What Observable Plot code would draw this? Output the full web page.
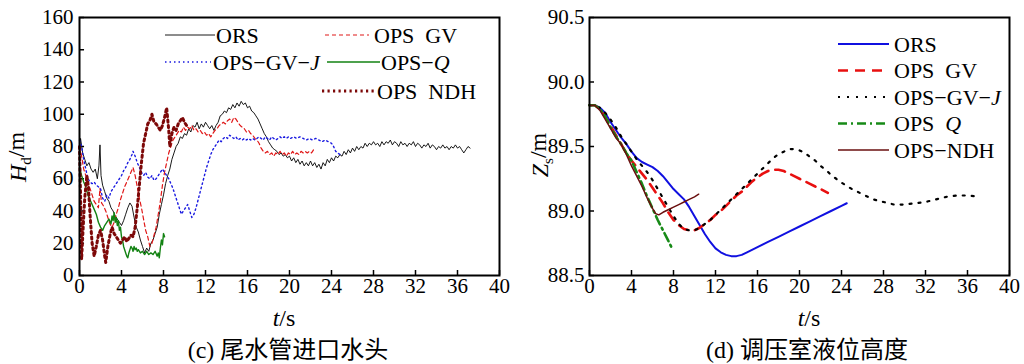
<!DOCTYPE html>
<html><head><meta charset="utf-8">
<script src="https://cdn.jsdelivr.net/npm/d3@7"></script>
<script src="https://cdn.jsdelivr.net/npm/@observablehq/plot@0.6"></script>
<style>
html,body{margin:0;padding:0;background:#fff;}
#wrap{position:relative;width:1024px;height:364px;display:flex;}
svg{display:block}
</style></head><body><div id="wrap"></div>
<script>
// ---------- data ----------
const xTicks = [0,4,8,12,16,20,24,28,32,36,40];
const yTicksC = [0,20,40,60,80,100,120,140,160];
const yTicksD = [88.5,89.0,89.5,90.0,90.5];

const namesC = [[["ORS",0]],[["OPS  GV",0]],[["OPS−GV−",0],["J",1]],[["OPS−",0],["Q",1]],[["OPS  NDH",0]]];
const namesD = [[["ORS",0]],[["OPS  GV",0]],[["OPS−GV−",0],["J",1]],[["OPS  ",0],["Q",1]],[["OPS−NDH",0]]];
const captionC = "(c) 尾水管进口水头";
const captionD = "(d) 调压室液位高度";

// (c) draft tube inlet head H_d (m) vs t (s)
const orsC = [[0,78],[0.1,85],[0.3,76],[0.5,72],[0.7,68],[0.9,70],[1.1,66],[1.3,64],[1.5,66],[1.7,60],[1.85,68],[1.95,81],[2.05,62],[2.2,56],[2.4,52],[2.6,48],[2.8,46],[3.0,42],[3.2,40],[3.4,37],[3.6,35],[3.8,33],[4.0,31],[4.2,34],[4.4,38],[4.6,42],[4.8,45],[5.0,43],[5.2,36],[5.4,30],[5.6,27],[5.8,22],[6.0,18],[6.2,14],[6.4,17],[6.6,15],[6.8,20],[7.0,22],[7.2,26],[7.4,30],[7.6,38],[7.8,44],[8.0,50],[8.2,57],[8.4,62],[8.6,66],[8.8,72],[9.0,76],[9.2,80],[9.4,82],[9.6,86],[9.8,85],[10.0,88],[10.2,87],[10.4,91],[10.6,89],[10.8,93],[11.0,92],[11.2,95],[11.4,91],[11.6,94],[11.8,92],[12.0,95],[12.2,93],[12.4,91],[12.6,93],[12.8,90],[13.0,93],[13.2,95],[13.4,99],[13.6,100],[13.8,102],[14.0,101],[14.2,104],[14.4,103],[14.6,106],[14.8,104],[15.0,107],[15.2,105],[15.4,108],[15.6,106],[15.8,107],[16.0,104],[16.2,105],[16.4,102],[16.6,101],[16.8,99],[17.0,97],[17.2,94],[17.4,91],[17.6,88],[17.8,86],[18.0,83],[18.2,81],[18.4,79],[18.6,78],[18.8,77],[19.0,75],[19.2,76],[19.4,74],[19.6,75],[19.8,73],[20.0,74],[20.2,71],[20.4,73],[20.6,70],[20.8,72],[21.0,69],[21.2,71],[21.4,68],[21.6,70],[21.8,68],[22.0,71],[22.2,68],[22.4,70],[22.6,67],[22.8,69],[23.0,66],[23.2,70],[23.4,68],[23.6,72],[23.8,70],[24.0,73],[24.2,71],[24.4,74],[24.6,73],[24.8,75],[25.0,74],[25.2,77],[25.4,75],[25.6,78],[25.8,76],[26.0,79],[26.2,77],[26.4,80],[26.6,78],[26.8,80],[27.0,79],[27.2,82],[27.4,80],[27.6,82],[27.8,81],[28.0,83],[28.2,81],[28.4,82],[28.6,80],[28.8,83],[29.0,81],[29.2,83],[29.4,82],[29.6,84],[29.8,81],[30.0,83],[30.2,82],[30.4,80],[30.6,83],[30.8,81],[31.0,82],[31.2,80],[31.4,82],[31.6,81],[31.8,83],[32.0,80],[32.2,82],[32.4,81],[32.6,79],[32.8,81],[33.0,80],[33.2,82],[33.4,79],[33.6,81],[33.8,80],[34.0,78],[34.2,80],[34.4,79],[34.6,81],[34.8,79],[35.0,80],[35.2,78],[35.4,80],[35.6,79],[35.8,81],[36.0,79],[36.2,80],[36.4,78],[36.6,76],[36.8,78],[37.0,80],[37.2,79]];
const gvC = [[0,80],[0.2,74],[0.4,66],[0.6,62],[0.8,57],[1.0,54],[1.2,50],[1.4,46],[1.6,44],[1.8,42],[1.95,54],[2.1,45],[2.3,43],[2.5,40],[2.7,36],[2.9,32],[3.1,30],[3.3,33],[3.5,38],[3.7,42],[3.9,47],[4.1,51],[4.3,55],[4.5,58],[4.7,61],[4.9,64],[5.1,67],[5.3,62],[5.5,55],[5.7,48],[5.9,42],[6.1,35],[6.3,28],[6.5,24],[6.7,18],[6.9,20],[7.1,25],[7.3,30],[7.5,38],[7.7,46],[7.9,56],[8.1,64],[8.3,70],[8.5,76],[8.7,80],[8.9,84],[9.1,86],[9.3,88],[9.5,90],[9.7,89],[9.9,92],[10.1,90],[10.3,92],[10.5,91],[10.7,93],[10.9,90],[11.1,91],[11.3,89],[11.5,90],[11.7,88],[11.9,89],[12.1,87],[12.3,88],[12.5,86],[12.7,88],[12.9,90],[13.1,91],[13.3,93],[13.5,94],[13.7,95],[13.9,94],[14.1,96],[14.3,97],[14.5,95],[14.7,98],[14.9,97],[15.1,95],[15.3,93],[15.5,92],[15.7,91],[15.9,89],[16.1,90],[16.3,88],[16.5,87],[16.7,85],[16.9,84],[17.1,82],[17.3,79],[17.5,77],[17.7,76],[17.9,77],[18.1,75],[18.3,76],[18.5,74],[18.7,76],[18.9,75],[19.1,77],[19.3,75],[19.5,76],[19.7,74],[19.9,76],[20.1,75],[20.3,77],[20.5,75],[20.7,76],[20.9,75],[21.1,77],[21.3,76],[21.5,77],[21.7,76],[21.9,77],[22.1,76],[22.3,78],[22.5,78]];
const gvjC = [[0,84],[0.2,80],[0.4,72],[0.6,66],[0.8,60],[1.0,58],[1.2,57],[1.4,58],[1.6,56],[1.8,55],[2.0,54],[2.2,48],[2.4,46],[2.6,50],[2.8,48],[3.0,52],[3.2,54],[3.4,56],[3.6,58],[3.8,60],[4.0,62],[4.2,65],[4.4,67],[4.6,70],[4.8,72],[5.0,75],[5.1,77],[5.3,74],[5.5,70],[5.7,67],[5.9,64],[6.1,62],[6.3,64],[6.5,61],[6.7,60],[6.9,62],[7.1,59],[7.3,60],[7.5,62],[7.7,64],[7.9,66],[8.1,64],[8.3,62],[8.5,60],[8.7,57],[8.9,54],[9.1,50],[9.3,46],[9.5,42],[9.7,38],[9.9,40],[10.1,42],[10.3,44],[10.5,40],[10.7,36],[10.9,38],[11.1,42],[11.3,47],[11.5,52],[11.7,57],[11.9,62],[12.1,67],[12.3,71],[12.5,75],[12.7,78],[12.9,80],[13.1,82],[13.3,84],[13.5,83],[13.7,85],[13.9,86],[14.1,85],[14.3,87],[14.5,86],[14.7,85],[14.9,86],[15.1,84],[15.3,85],[15.5,84],[15.7,85],[15.9,84],[16.1,85],[16.3,84],[16.5,85],[16.7,84],[16.9,85],[17.1,86],[17.3,85],[17.5,84],[17.7,86],[17.9,85],[18.1,84],[18.3,86],[18.5,85],[18.7,84],[18.9,85],[19.1,86],[19.3,85],[19.5,86],[19.7,85],[19.9,86],[20.1,85],[20.4,86],[20.7,85],[21.0,86],[21.3,85],[21.6,84],[21.9,85],[22.2,84],[22.5,85],[22.8,84],[23.1,83],[23.4,84],[23.7,83],[24.0,82],[24.2,80],[24.4,77],[24.6,76],[24.8,75]];
const qC = [[0,67],[0.2,62],[0.4,58],[0.6,55],[0.8,50],[1.0,47],[1.2,44],[1.4,41],[1.6,38],[1.8,33],[2.0,30],[2.2,28],[2.4,31],[2.6,33],[2.8,35],[3.0,32],[3.1,37],[3.2,34],[3.3,39],[3.4,33],[3.5,36],[3.6,31],[3.7,34],[3.8,28],[3.9,30],[4.0,24],[4.1,22],[4.2,18],[4.3,16],[4.4,14],[4.5,12],[4.6,11],[4.7,14],[4.8,16],[4.9,18],[5.0,17],[5.1,15],[5.2,18],[5.3,16],[5.4,17],[5.5,15],[5.6,16],[5.8,14],[6.0,15],[6.2,13],[6.4,15],[6.6,13],[6.8,14],[7.0,13],[7.2,15],[7.4,12],[7.5,14],[7.6,11],[7.7,17],[7.8,22],[7.9,19],[8.0,26],[8.1,24]];
const ndhC = [[0,80],[0.1,50],[0.2,10],[0.35,30],[0.5,48],[0.7,62],[0.85,55],[1.0,38],[1.2,20],[1.4,12],[1.6,18],[1.8,25],[2.0,28],[2.2,22],[2.4,12],[2.5,8],[2.7,18],[2.9,25],[3.1,30],[3.3,26],[3.5,24],[3.7,22],[3.9,20],[4.1,22],[4.3,24],[4.5,21],[4.7,23],[4.9,25],[5.1,24],[5.3,30],[5.5,42],[5.7,56],[5.9,70],[6.1,82],[6.3,88],[6.5,94],[6.7,96],[6.9,100],[7.1,95],[7.3,94],[7.5,92],[7.7,90],[7.9,93],[8.1,98],[8.3,104],[8.5,90],[8.6,80],[8.8,88],[9.0,92],[9.2,90],[9.4,94],[9.6,96],[9.8,98],[10.0,95],[10.2,93],[10.3,94]];

// (d) surge chamber water level Z_s (m) vs t (s)
const orsD = [[0,89.82],[0.5,89.82],[1,89.80],[1.5,89.76],[2,89.69],[2.5,89.63],[3,89.57],[3.5,89.52],[4,89.46],[4.5,89.41],[5,89.38],[5.5,89.36],[6,89.34],[6.5,89.31],[7,89.27],[7.5,89.22],[8,89.17],[8.5,89.13],[9,89.09],[9.5,89.03],[10,88.96],[10.5,88.89],[11,88.82],[11.5,88.76],[12,88.71],[12.5,88.68],[13,88.66],[13.5,88.65],[14,88.65],[14.5,88.66],[15,88.68],[16,88.72],[17,88.76],[18,88.80],[19,88.84],[20,88.88],[21,88.92],[22,88.96],[23,89.00],[24,89.04],[24.5,89.06]];
const gvD = [[0,89.82],[0.5,89.82],[1,89.79],[1.5,89.73],[2,89.66],[2.5,89.59],[3,89.52],[3.5,89.45],[4,89.39],[4.5,89.34],[5,89.29],[5.5,89.24],[6,89.18],[6.5,89.12],[7,89.06],[7.5,88.99],[8,88.93],[8.5,88.89],[9,88.86],[9.5,88.85],[10,88.85],[10.5,88.87],[11,88.90],[11.5,88.93],[12,88.97],[12.5,89.00],[13,89.04],[13.5,89.08],[14,89.12],[14.5,89.15],[15,89.19],[15.5,89.23],[16,89.26],[16.5,89.29],[17,89.31],[17.5,89.32],[18,89.32],[18.5,89.31],[19,89.29],[19.5,89.27],[20,89.25],[20.5,89.23],[21,89.21],[21.5,89.19],[22,89.17],[22.7,89.14]];
const gvjD = [[0,89.82],[0.5,89.82],[1,89.80],[1.5,89.76],[2,89.71],[2.5,89.65],[3,89.58],[3.5,89.52],[4,89.46],[4.5,89.40],[5,89.35],[5.5,89.30],[6,89.24],[6.5,89.17],[7,89.10],[7.5,89.03],[8,88.96],[8.5,88.90],[9,88.86],[9.5,88.85],[10,88.85],[10.5,88.87],[11,88.90],[11.5,88.93],[12,88.97],[12.5,89.01],[13,89.05],[13.5,89.09],[14,89.13],[14.5,89.17],[15,89.21],[15.5,89.25],[16,89.29],[16.5,89.33],[17,89.37],[17.5,89.41],[18,89.44],[18.5,89.46],[19,89.48],[19.5,89.48],[20,89.47],[20.5,89.45],[21,89.42],[21.5,89.39],[22,89.35],[22.5,89.32],[23,89.28],[23.5,89.25],[24,89.22],[25,89.17],[26,89.13],[27,89.09],[28,89.07],[29,89.05],[30,89.05],[31,89.06],[32,89.07],[33,89.09],[34,89.11],[35,89.12],[36,89.12],[37.2,89.11]];
const qD = [[0,89.82],[0.5,89.82],[1,89.79],[1.5,89.73],[2,89.65],[2.5,89.58],[3,89.52],[3.5,89.45],[4,89.39],[4.5,89.30],[5,89.21],[5.5,89.11],[6,89.02],[6.5,88.93],[7,88.85],[7.5,88.77],[7.8,88.72]];
const ndhD = [[0,89.82],[0.5,89.82],[1,89.78],[1.5,89.71],[2,89.64],[2.5,89.57],[3,89.52],[3.5,89.44],[4,89.35],[4.5,89.27],[5,89.19],[5.5,89.10],[6,89.02],[6.3,88.98],[6.6,88.97],[7,88.99],[7.5,89.01],[8,89.03],[8.5,89.05],[9,89.07],[9.5,89.09],[10,89.11],[10.4,89.13]];

// ---------- styles ----------
const FONT = "'Liberation Serif','Times New Roman','Noto Sans CJK SC',serif";
const stylesC = [
  {stroke:"#000000", w:0.9, dash:null},
  {stroke:"#e01818", w:1.2, dash:"4,3"},
  {stroke:"#1a1ae0", w:1.4, dash:"1.5,3"},
  {stroke:"#128212", w:1.4, dash:null},
  {stroke:"#7d0808", w:3, dash:"2.2,3.3"}
];
const stylesD = [
  {stroke:"#1010e0", w:2, dash:null},
  {stroke:"#e81010", w:2.6, dash:"10,7"},
  {stroke:"#000000", w:2.2, dash:"2,7"},
  {stroke:"#178a17", w:2.6, dash:"9,4,2,4"},
  {stroke:"#6a0f0f", w:1.5, dash:null}
];

function lineMark(data, s) {
  return Plot.line(data, {stroke: s.stroke, strokeWidth: s.w, strokeDasharray: s.dash ?? undefined, strokeLinejoin:"round"});
}

function legendItem(svg, x1, x2, y, s, parts, tx) {
  svg.append("line").attr("x1",x1).attr("x2",x2).attr("y1",y).attr("y2",y)
    .attr("stroke",s.stroke).attr("stroke-width",s.w).attr("stroke-dasharray",s.dash);
  const t = svg.append("text").attr("x",tx).attr("y",y).attr("dy","0.35em")
    .attr("text-anchor","start")
    .style("font-size","22px").style("white-space","pre").attr("fill","black");
  parts.forEach(p => t.append("tspan").text(p[0]).attr("font-style", p[1] ? "italic" : null));
}

function yLabel(svg, x, y, main, sub) {
  const t = svg.append("text").attr("transform",`translate(${x},${y}) rotate(-90)`)
    .attr("text-anchor","middle").attr("dy","0.35em").style("font-size","24px").attr("fill","black");
  t.append("tspan").text(main).attr("font-style","italic");
  t.append("tspan").text(sub).attr("dy","0.3em").style("font-size","15px");
  t.append("tspan").text("/m").attr("dy","-0.3em").style("font-size","24px");
}
function xLabel(svg, x, y) {
  const t = svg.append("text").attr("x",x).attr("y",y).attr("dy","0.35em")
    .attr("text-anchor","middle").style("font-size","24px").attr("fill","black");
  t.append("tspan").text("t").attr("font-style","italic");
  t.append("tspan").text("/s");
}
function caption(svg, x, y, txt) {
  svg.append("text").attr("x",x).attr("y",y).attr("dy","0.35em").attr("text-anchor","middle")
    .style("font-size","24px").attr("fill","black").text(txt);
}

const common = {width:512, height:364, marginTop:17, marginBottom:89,
  style:{fontFamily:FONT, fontSize:"21px", background:"white", color:"black", overflow:"visible"}};

// ---------- chart (c) ----------
const left = Plot.plot({
  ...common, marginLeft:79, marginRight:13,
  x:{domain:[0,40]}, y:{domain:[0,160]},
  marks:[
    Plot.axisX({ticks:xTicks, tickSize:0, tickPadding:3, label:null}),
    Plot.axisY({ticks:yTicksC, tickSize:0, tickPadding:6, label:null}),
    Plot.ruleX(xTicks, {y1:0, y2:3.1, stroke:"black", strokeWidth:1.5}),
    Plot.ruleY(yTicksC, {x1:0, x2:0.48, stroke:"black", strokeWidth:1.5}),
    lineMark(orsC, stylesC[0]),
    lineMark(gvC, stylesC[1]),
    lineMark(gvjC, stylesC[2]),
    lineMark(qC, stylesC[3]),
    lineMark(ndhC, stylesC[4]),
    Plot.frame({stroke:"black", strokeWidth:2})
  ]
});

// ---------- chart (d) ----------
const right = Plot.plot({
  ...common, marginLeft:77, marginRight:15,
  x:{domain:[0,40]}, y:{domain:[88.5,90.5]},
  marks:[
    Plot.axisX({ticks:xTicks, tickSize:0, tickPadding:3, label:null}),
    Plot.axisY({ticks:yTicksD, tickSize:0, tickPadding:5, label:null, tickFormat:d3.format(".1f")}),
    Plot.ruleX(xTicks, {y1:88.5, y2:88.539, stroke:"black", strokeWidth:1.5}),
    Plot.ruleY(yTicksD, {x1:0, x2:0.48, stroke:"black", strokeWidth:1.5}),
    lineMark(orsD, stylesD[0]),
    lineMark(gvD, stylesD[1]),
    lineMark(gvjD, stylesD[2]),
    lineMark(qD, stylesD[3]),
    lineMark(ndhD, stylesD[4]),
    Plot.frame({stroke:"black", strokeWidth:2})
  ]
});

const wrap = document.getElementById("wrap");
wrap.appendChild(left);
wrap.appendChild(right);

// annotations (c)
const sl = d3.select(left);
legendItem(sl, 165, 215, 35, stylesC[0], namesC[0], 216);
legendItem(sl, 325, 369, 35, stylesC[1], namesC[1], 374);
legendItem(sl, 165, 211, 62, stylesC[2], namesC[2], 213);
legendItem(sl, 327, 380, 62, stylesC[3], namesC[3], 381);
legendItem(sl, 322, 375, 91, stylesC[4], namesC[4], 377);
yLabel(sl, 18, 157, "H", "d");
xLabel(sl, 284, 318);
caption(sl, 288, 350, captionC);

// annotations (d)
const sr = d3.select(right);
const ly = [44, 70.5, 97, 123.5, 150];
for (let i = 0; i < 5; i++) legendItem(sr, 326, 377, ly[i], stylesD[i], namesD[i], 382);
yLabel(sr, 28, 155, "Z", "s");
xLabel(sr, 297, 318);
caption(sr, 295, 350, captionD);
</script></body></html>
